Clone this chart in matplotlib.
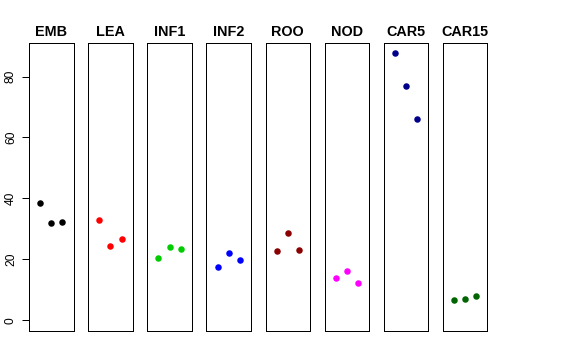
import numpy as np
import matplotlib.pyplot as plt

plt.rcParams['font.family'] = ['Liberation Sans', 'DejaVu Sans']

tissues = ['EMB', 'LEA', 'INF1', 'INF2', 'ROO', 'NOD', 'CAR5', 'CAR15']
colors = ['black', 'red', '#00CD00', 'blue', '#8B0000', 'magenta', '#00008B', '#006400']
values = [
    [38.4, 32.1, 32.2],
    [32.9, 24.5, 26.6],
    [20.5, 24.2, 23.3],
    [17.5, 22.1, 19.8],
    [22.8, 28.7, 23.1],
    [13.9, 16.2, 12.3],
    [87.6, 76.8, 66.1],
    [6.6, 7.0, 8.0],
]
reps = [1, 2, 3]
yticks = [0, 20, 40, 60, 80]

fig = plt.figure(figsize=(8, 5), dpi=72)
W, H = 576.0, 360.0
ymax = max(max(v) for v in values)
pad = 0.04 * ymax

for i, name in enumerate(tissues):
    left = 29 + 59.14 * i
    ax = fig.add_axes([left / W, (H - 331) / H, 44.5 / W, (331 - 42.7) / H])
    ax.plot(reps, values[i], 'o', color=colors[i], ms=6.5, mec='none')
    ax.set_xlim(0, 4)
    ax.set_ylim(-pad, ymax + pad)
    ax.set_xticks([])
    for s in ax.spines.values():
        s.set_linewidth(1)
        s.set_color('black')
    ax.set_title(name, fontsize=14.4, fontweight='bold', pad=7)
    if i == 0:
        ax.set_yticks(yticks)
        ax.set_yticklabels([str(t) for t in yticks], rotation=90, va='center', fontsize=12)
        ax.tick_params(axis='y', length=7, width=1, pad=5)
    else:
        ax.set_yticks([])

fig.savefig('out.png', dpi=72)
